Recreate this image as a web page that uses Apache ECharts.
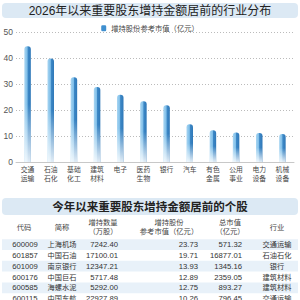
<!DOCTYPE html>
<html><head><meta charset="utf-8">
<script src="https://cdn.jsdelivr.net/npm/echarts@6/dist/echarts.min.js"></script>
<style>html,body{margin:0;padding:0;background:#fff}#c{width:300px;height:300px}</style>
</head><body><div id="c"></div>
<script>
const chartTitle = '2026年以来重要股东增持金额居前的行业分布';
const seriesName = '增持股份参考市值（亿元）';
const categories = ['交通\n运输','石油\n石化','基础\n化工','建筑\n材料','电子','医药\n生物','银行','汽车','有色\n金属','公用\n事业','电力\n设备','机械\n设备'];
const values = [44.5, 39.8, 32.6, 28.8, 25.9, 23.4, 21.8, 14.5, 12.2, 11.3, 11.2, 10.8];

const tableTitle = '今年以来重要股东增持金额居前的个股';
const headers = [['代码'], ['简称'], ['增持数量', '（万股）'], ['增持股份', '参考市值（亿元）'], ['总市值', '（亿元）'], ['行业']];
const codes = ['600009','601857','601009','600176','600585','600115'];
const names = ['上海机场','中国石油','南京银行','中国巨石','海螺水泥','中国东航'];
const quantities = ['7242.40','17100.01','12347.21','5717.48','5292.00','22927.89'];
const refValues = ['23.73','19.71','13.93','12.89','12.75','10.26'];
const marketCaps = ['571.32','16877.01','1345.16','2359.05','893.27','796.45'];
const industries = ['交通运输','石油石化','银行','建筑材料','建筑材料','交通运输'];

const FF = '"Liberation Sans", "Noto Sans CJK SC", sans-serif';
const chart = echarts.init(document.getElementById('c'), null, {renderer: 'svg'});

function txt(text, x, y, align, size, color, weight) {
  return {type: 'text', z: 10, style: {text: text, x: x, y: y, textAlign: align, align: align,
    textVerticalAlign: 'middle', verticalAlign: 'middle',
    font: (weight || 'normal') + ' ' + size + 'px ' + FF, fill: color}};
}

const g = [];
g.push({type: 'rect', shape: {x: 2, y: 3, width: 296, height: 15, r: 4}, style: {fill: '#dce9f4'}});
g.push(txt(chartTitle, 150, 10.5, 'center', 12, '#222', 'normal'));
g.push({type: 'rect', shape: {x: 2, y: 198, width: 296, height: 17, r: 4}, style: {fill: '#dce9f4'}});
g.push(txt(tableTitle, 150, 207, 'center', 11.5, '#222', 'bold'));

const colCenters = [24, 62, 103, 169, 230, 277];
headers.forEach((h, i) => {
  if (h.length === 1) g.push(txt(h[0], colCenters[i], 227, 'center', 7.3, '#444'));
  else { g.push(txt(h[0], colCenters[i], 222.5, 'center', 7.3, '#444')); g.push(txt(h[1], colCenters[i], 231.5, 'center', 7.3, '#444')); }
});
const rowH = 10.8, row0 = 244.6;
codes.forEach((c, r) => {
  const y = row0 + r * rowH;
  if (r % 2 === 0) g.push({type: 'rect', shape: {x: 2, y: y - rowH / 2, width: 296, height: rowH}, style: {fill: '#e8f1f9'}});
  g.push(txt(c, 25, y, 'center', 7.7, '#333'));
  g.push(txt(names[r], 62, y, 'center', 7.2, '#333'));
  g.push(txt(quantities[r], 118, y, 'right', 7.7, '#333'));
  g.push(txt(refValues[r], 198, y, 'right', 7.7, '#333'));
  g.push(txt(marketCaps[r], 242, y, 'right', 7.7, '#333'));
  g.push(txt(industries[r], 277, y, 'center', 7.2, '#333'));
});

chart.setOption({
  animation: false,
  textStyle: {fontFamily: FF},
  graphic: g,
  legend: {top: 19.5, left: 'center', itemWidth: 5, itemHeight: 6, itemGap: 4,
    data: [{name: seriesName, icon: 'roundRect', itemStyle: {color: '#3f8fcf'}}],
    textStyle: {fontSize: 7.3, color: '#444', fontFamily: FF}},
  grid: {left: 16, right: 6, top: 32, bottom: 138, containLabel: false},
  xAxis: {type: 'category', data: categories,
    axisLine: {lineStyle: {color: '#c8c8c8'}}, axisTick: {show: false},
    axisLabel: {interval: 0, fontSize: 6.8, lineHeight: 8.6, color: '#444', margin: 3.5, fontFamily: FF}},
  yAxis: {type: 'value', min: 0, max: 50, interval: 10,
    axisLine: {show: false}, axisTick: {show: false},
    axisLabel: {fontSize: 8.5, color: '#555', margin: 3, fontFamily: FF},
    splitLine: {lineStyle: {color: '#bbb', type: [1, 2]}}},
  series: [
    {name: seriesName, type: 'bar', data: values, barWidth: 6.5,
      itemStyle: {borderRadius: [3, 3, 0, 0],
        color: new echarts.graphic.LinearGradient(0, 0, 1, 0, [
          {offset: 0, color: '#a9d6f2'}, {offset: 0.45, color: '#7dbde8'},
          {offset: 0.55, color: '#3d88c6'}, {offset: 1, color: '#2f78b8'}])}},
    {name: 'fade', type: 'bar', data: values, barWidth: 6.5, barGap: '-100%', silent: true,
      itemStyle: {borderRadius: [3, 3, 0, 0],
        color: new echarts.graphic.LinearGradient(0, 0, 0, 1, [
          {offset: 0, color: 'rgba(255,255,255,0)'}, {offset: 0.5, color: 'rgba(255,255,255,0)'},
          {offset: 1, color: 'rgba(255,255,255,0.85)'}])}}
  ]
});
</script></body></html>
